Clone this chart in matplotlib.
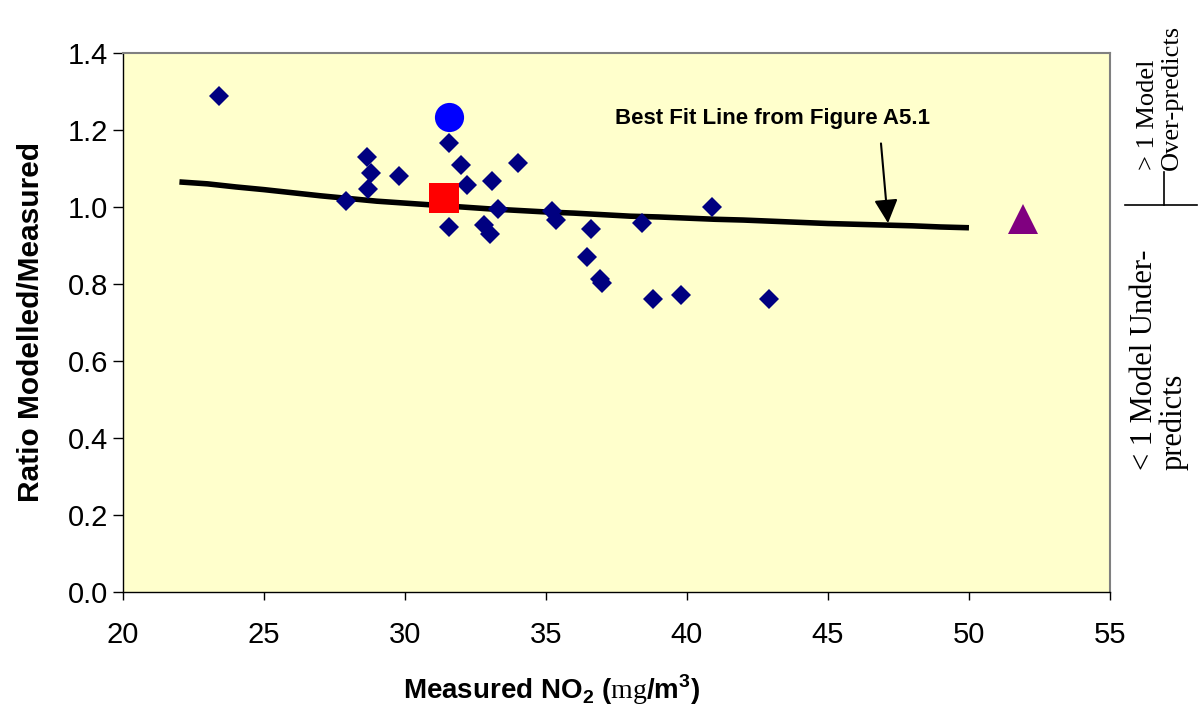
import matplotlib
matplotlib.use("Agg")
import matplotlib.pyplot as plt

# Diffusion tube sites (diamonds)
SITE_X = [23.4, 27.9, 28.65, 28.8, 28.7, 29.8, 31.55, 32.0, 32.2, 33.1, 34.0,
          33.3, 31.55, 32.8, 33.0, 35.2, 35.35, 36.6, 36.45, 36.9, 37.0,
          38.8, 39.8, 38.4, 40.9, 42.9]
SITE_Y = [1.288, 1.016, 1.130, 1.088, 1.047, 1.080, 1.166, 1.109, 1.057, 1.067, 1.114,
          0.995, 0.948, 0.953, 0.930, 0.990, 0.966, 0.943, 0.870, 0.813, 0.803,
          0.761, 0.771, 0.958, 1.000, 0.761]

# Special sites
CIRCLE_X, CIRCLE_Y = [31.55], [1.234]
SQUARE_X, SQUARE_Y = [31.4], [1.023]
TRIANGLE_X, TRIANGLE_Y = [51.9], [0.968]

# Best fit line from Figure A5.1
FIT_X = [22, 23, 24, 25, 26, 27, 28, 29, 30, 31, 32, 33, 34, 35, 36, 37, 38,
         39, 40, 41, 42, 43, 44, 45, 46, 47, 48, 49, 50]
FIT_Y = [1.065, 1.060, 1.052, 1.045, 1.037, 1.029, 1.022, 1.015, 1.010, 1.005,
         1.000, 0.995, 0.991, 0.987, 0.984, 0.980, 0.976, 0.974, 0.971, 0.968,
         0.966, 0.963, 0.960, 0.957, 0.955, 0.953, 0.951, 0.948, 0.946]

X_TICKS = [20, 25, 30, 35, 40, 45, 50, 55]
Y_TICKS = [0.0, 0.2, 0.4, 0.6, 0.8, 1.0, 1.2, 1.4]

plt.rcParams["font.family"] = ["Liberation Sans", "DejaVu Sans"]
plt.rcParams["mathtext.fontset"] = "custom"
plt.rcParams["mathtext.rm"] = "Liberation Serif"
plt.rcParams["mathtext.bf"] = "Liberation Sans:bold"

fig = plt.figure(figsize=(11.98, 7.06), dpi=100)
ax = fig.add_axes([0.1027, 0.1615, 0.8238, 0.7635])
ax.set_facecolor("#FFFFCC")

ax.plot(FIT_X, FIT_Y, color="black", lw=4.0, solid_capstyle="butt", zorder=2)
ax.plot(SITE_X, SITE_Y, linestyle="none", marker="D", ms=10.5, color="#000080",
        markeredgewidth=0, zorder=3)
ax.plot(CIRCLE_X, CIRCLE_Y, linestyle="none", marker="o", ms=21, color="#0000FF",
        markeredgewidth=0, zorder=4)
ax.plot(SQUARE_X, SQUARE_Y, linestyle="none", marker="s", ms=21, color="#FF0000",
        markeredgewidth=0, zorder=4)
ax.plot(TRIANGLE_X, TRIANGLE_Y, linestyle="none", marker="^", ms=22, color="#800080",
        markeredgewidth=0, zorder=4)

ax.set_xlim(20, 55)
ax.set_ylim(0, 1.4)
ax.set_xticks(X_TICKS)
ax.set_yticks(Y_TICKS)
ax.set_xticklabels([str(v) for v in X_TICKS])
ax.set_yticklabels([f"{v:.1f}" for v in Y_TICKS])
ax.tick_params(axis="y", direction="out", length=7, width=1, labelsize=21, pad=4)
ax.tick_params(axis="x", direction="out", length=6, width=1, labelsize=21, pad=15)

for side in ["top", "right"]:
    ax.spines[side].set_color("#808080")
    ax.spines[side].set_linewidth(1.5)
for side in ["left", "bottom"]:
    ax.spines[side].set_color("black")
    ax.spines[side].set_linewidth(1.0)

ax.set_xlabel(r"Measured NO$_\mathbf{2}$ ($\mathrm{mg}$/m$^\mathbf{3}$)", fontsize=20,
              fontweight="bold", va="center")
ax.xaxis.set_label_coords((552 - 123) / 987, -(690 - 592) / 539)
ax.set_ylabel("Ratio Modelled/Measured", fontsize=21.5, fontweight="bold")
ax.yaxis.set_label_coords(-0.079, 0.5)

ax.text(43.05, 1.231, "Best Fit Line from Figure A5.1", fontsize=16,
        fontweight="bold", ha="center", va="center")
ax.annotate("", xy=(47.13, 0.958), xytext=(46.88, 1.165),
            arrowprops=dict(arrowstyle="-|>", color="black", lw=1.5,
                            mutation_scale=36, shrinkA=0, shrinkB=0))

serif = ["Liberation Serif", "DejaVu Serif"]
fig.text(0.968, 0.759, "> 1 Model\nOver-predicts", rotation=90, family=serif,
         fontsize=19, ha="center", va="bottom", multialignment="left",
         linespacing=1.1)
fig.text(0.968, 0.334, "< 1 Model Under-\npredicts", rotation=90, family=serif,
         fontsize=22, ha="center", va="bottom", multialignment="left",
         linespacing=1.0)
fig.add_artist(plt.Line2D([1125 / 1198, 1197 / 1198], [1 - 205 / 706, 1 - 205 / 706],
                          color="black", lw=1.2))
fig.add_artist(plt.Line2D([1164 / 1198, 1164 / 1198], [1 - 172 / 706, 1 - 205 / 706],
                          color="black", lw=1.2))

fig.savefig("out.png", dpi=100)
